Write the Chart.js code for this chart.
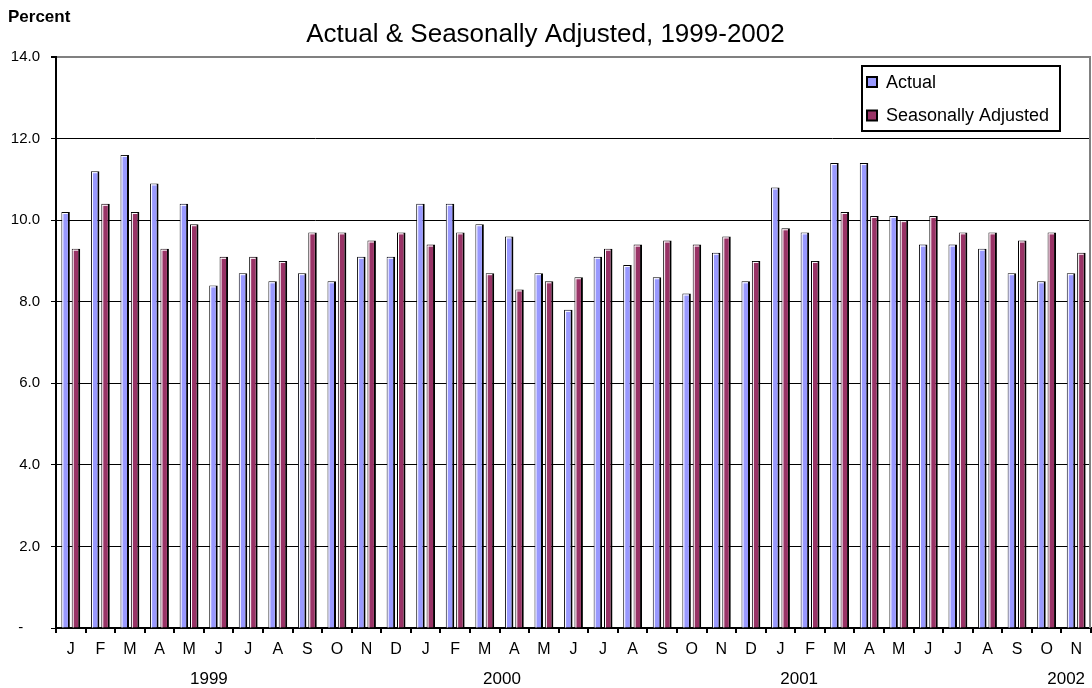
<!DOCTYPE html>
<html>
<head>
<meta charset="utf-8">
<script src="https://cdn.jsdelivr.net/npm/chart.js@4.4.1/dist/chart.umd.min.js"></script>
<style>
  html, body { margin: 0; padding: 0; background: #ffffff; }
  #wrap { position: relative; width: 1092px; height: 688px; }
</style>
</head>
<body>
<div id="wrap"><canvas id="chart"></canvas></div>
<script>
// Monthly rates, January 1999 through November 2001
const months = ['J','F','M','A','M','J','J','A','S','O','N','D',
                'J','F','M','A','M','J','J','A','S','O','N','D',
                'J','F','M','A','M','J','J','A','S','O','N'];
const actual = [10.2, 11.2, 11.6, 10.9, 10.4, 8.4, 8.7, 8.5, 8.7, 8.5, 9.1, 9.1,
                10.4, 10.4, 9.9, 9.6, 8.7, 7.8, 9.1, 8.9, 8.6, 8.2, 9.2, 8.5,
                10.8, 9.7, 11.4, 11.4, 10.1, 9.4, 9.4, 9.3, 8.7, 8.5, 8.7];
const adjusted = [9.3, 10.4, 10.2, 9.3, 9.9, 9.1, 9.1, 9.0, 9.7, 9.7, 9.5, 9.7,
                  9.4, 9.7, 8.7, 8.3, 8.5, 8.6, 9.3, 9.4, 9.5, 9.4, 9.6, 9.0,
                  9.8, 9.0, 10.2, 10.1, 10.0, 10.1, 9.7, 9.7, 9.5, 9.7, 9.2];
const seriesNames = ['Actual', 'Seasonally Adjusted'];
const years = ['1999', '2000', '2001', '2002'];
// category position (in month slots) each year caption is centred under
const yearSlots = [4.67, 14.58, 24.63, 33.66];

const FONT = "'Liberation Sans', Arial, sans-serif";

// white inner highlight on each bar, giving the raised look
const bevel = {
  id: 'bevel',
  afterDatasetsDraw(chart) {
    const ctx = chart.ctx;
    ctx.save();
    ctx.fillStyle = '#ffffff';
    chart.data.datasets.forEach((ds, i) => {
      chart.getDatasetMeta(i).data.forEach(bar => {
        const p = bar.getProps(['x', 'y', 'base', 'width'], true);
        const l = p.x - p.width / 2, r = p.x + p.width / 2;
        ctx.fillRect(l + 1, p.y + 1, r - l - 3, 1);
        ctx.fillRect(l + 1, p.y + 1, 1, p.base - p.y - 1);
      });
    });
    ctx.restore();
  }
};

// unit caption, year captions, plot frame and boxed legend
const extras = {
  id: 'extras',
  afterDraw(chart) {
    const ctx = chart.ctx;
    const area = chart.chartArea;
    const xs = chart.scales.x;
    ctx.save();

    ctx.fillStyle = '#000';
    ctx.font = 'bold 17px ' + FONT;
    ctx.textAlign = 'left';
    ctx.textBaseline = 'middle';
    ctx.fillText('Percent', 8, 17);

    const slot = (xs.getPixelForValue(1) - xs.getPixelForValue(0));
    const x0 = xs.getPixelForValue(0) - slot / 2;
    ctx.font = '17px ' + FONT;
    ctx.textAlign = 'center';
    years.forEach((yr, i) => {
      ctx.fillText(yr, x0 + (yearSlots[i] + 0.5) * slot, 679);
    });

    ctx.strokeStyle = '#808080';
    ctx.lineWidth = 2;
    ctx.beginPath();
    ctx.moveTo(area.right - 1, area.top - 1);
    ctx.lineTo(area.right - 1, area.bottom);
    ctx.stroke();

    // legend
    const bx = 862, by = 66, bw = 198, bh = 65;
    ctx.fillStyle = '#fff';
    ctx.fillRect(bx, by, bw, bh);
    ctx.strokeStyle = '#000';
    ctx.lineWidth = 2;
    ctx.strokeRect(bx, by, bw, bh);
    ctx.font = '18px ' + FONT;
    ctx.textAlign = 'left';
    chart.data.datasets.forEach((ds, i) => {
      const cy = by + 16 + i * 33.5;
      ctx.fillStyle = ds.backgroundColor;
      ctx.fillRect(bx + 5, cy - 5, 10, 10);
      ctx.lineWidth = 2;
      ctx.strokeStyle = '#000';
      ctx.strokeRect(bx + 5, cy - 5, 10, 10);
      ctx.fillStyle = '#000';
      ctx.fillText(ds.label, bx + 24, cy + 1);
    });
    ctx.restore();
  }
};

new Chart(document.getElementById('chart'), {
  type: 'bar',
  data: {
    labels: months,
    datasets: [
      { label: seriesNames[0], data: actual, backgroundColor: '#9999ff' },
      { label: seriesNames[1], data: adjusted, backgroundColor: '#993366' }
    ]
  },
  options: {
    responsive: true,
    maintainAspectRatio: false,
    animation: false,
    devicePixelRatio: 1,
    layout: { padding: { left: 0, right: 1, top: 0, bottom: 0 } },
    datasets: {
      bar: {
        categoryPercentage: 0.7,
        barPercentage: 0.82,
        borderColor: '#000',
        borderWidth: { top: 1, left: 1, right: 2, bottom: 0 },
        borderSkipped: false
      }
    },
    plugins: {
      legend: { display: false },
      tooltip: { enabled: false },
      title: {
        display: true,
        text: 'Actual & Seasonally Adjusted, 1999-2002',
        color: '#000',
        font: { family: FONT, size: 26, weight: 'normal', lineHeight: 1.2 },
        padding: { top: 19, bottom: 6.8 }
      }
    },
    scales: {
      x: {
        afterFit(s) { s.height = 60; },
        grid: {
          display: true,
          drawOnChartArea: false,
          drawTicks: true,
          tickLength: 5,
          color: '#000',
          lineWidth: 2,
          offset: true
        },
        border: { color: '#000', width: 2 },
        ticks: {
          color: '#000',
          font: { family: FONT, size: 16 },
          padding: 7,
          autoSkip: false,
          maxRotation: 0
        }
      },
      y: {
        min: 0,
        max: 14,
        afterFit(s) { s.width = 56; },
        grid: {
          color: c => (c.tick && c.tick.value === 14) ? '#808080' : '#000',
          lineWidth: c => (c.tick && c.tick.value === 14) ? 2 : 1,
          tickColor: '#000',
          tickLength: 5,
          drawTicks: true
        },
        border: { color: '#000', width: 2 },
        ticks: {
          stepSize: 2,
          color: '#000',
          padding: 11,
          font: { family: FONT, size: 15 },
          callback: v => v === 0 ? '-    ' : Number(v).toFixed(1)
        }
      }
    }
  },
  plugins: [bevel, extras]
});
</script>
</body>
</html>
